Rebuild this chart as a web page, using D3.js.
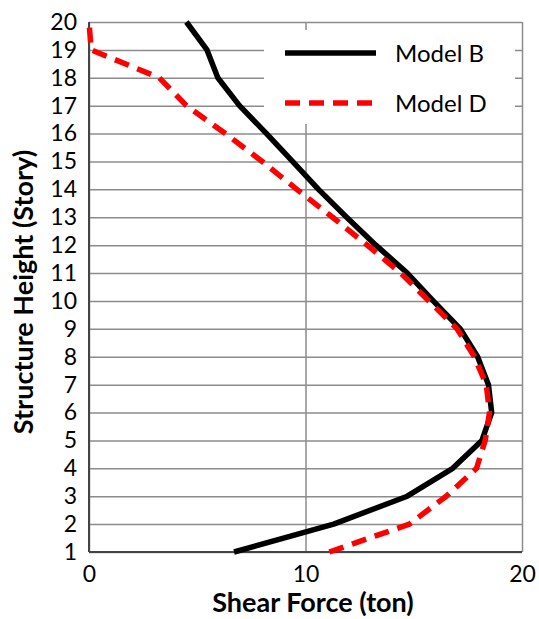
<!DOCTYPE html>
<html>
<head>
<meta charset="utf-8">
<script src="https://cdn.jsdelivr.net/npm/d3@7"></script>
<style>
  html, body { margin: 0; padding: 0; background: #fff; }
  svg { display: block; }
  text { font-family: Lato, "Open Sans", sans-serif; fill: #000; }
</style>
</head>
<body>
<script>
// ---- data ----
const stories = [1,2,3,4,5,6,7,8,9,10,11,12,13,14,15,16,17,18,19,20];
const modelB = [6.7, 11.3, 14.7, 16.8, 18.15, 18.6, 18.45, 17.95, 17.15, 15.9, 14.7, 13.25, 11.9, 10.6, 9.4, 8.2, 6.95, 5.95, 5.45, 4.5];
const modelD = [11.1, 14.8, 16.5, 17.9, 18.3, 18.5, 18.35, 17.8, 17.0, 15.7, 14.4, 12.85, 11.25, 9.6, 8.0, 6.3, 4.5, 3.25, 0.1, 0.0];
const xTicks = [0, 10, 20];
const yTicks = stories;
const seriesNames = ["Model B", "Model D"];

// ---- layout ----
const W = 539, H = 619;
const margin = {left: 89, right: 17, top: 22, bottom: 67};

const svg = d3.select("body").append("svg").attr("width", W).attr("height", H);

const x = d3.scaleLinear().domain([0, 20]).range([margin.left, W - margin.right]);
const y = d3.scaleLinear().domain([1, 20]).range([H - margin.bottom, margin.top]);

// horizontal gridlines
svg.append("g")
  .attr("transform", `translate(${margin.left},0)`)
  .call(d3.axisLeft(y).tickValues(yTicks).tickSize(-(x(20) - x(0))).tickFormat(""))
  .call(g => g.select(".domain").remove())
  .call(g => g.selectAll("line").attr("stroke", "#8c8c8c").attr("stroke-width", 1.5));

// vertical gridlines
svg.append("g")
  .attr("transform", `translate(0,${y(1)})`)
  .call(d3.axisBottom(x).tickValues(xTicks).tickSize(-(y(1) - y(20))).tickFormat(""))
  .call(g => g.select(".domain").remove())
  .call(g => g.selectAll("line").attr("stroke", "#8c8c8c").attr("stroke-width", 1.5));

// axis lines
svg.append("line").attr("x1", x(0)).attr("x2", x(0)).attr("y1", y(20)).attr("y2", y(1))
  .attr("stroke", "#444").attr("stroke-width", 2);
svg.append("line").attr("x1", x(0)).attr("x2", x(20)).attr("y1", y(1)).attr("y2", y(1))
  .attr("stroke", "#444").attr("stroke-width", 2);

// tick labels
svg.append("g")
  .attr("transform", `translate(${margin.left},0)`)
  .call(d3.axisLeft(y).tickValues(yTicks).tickSize(0).tickPadding(12).tickFormat(d3.format("d")))
  .call(g => g.select(".domain").remove())
  .call(g => g.selectAll("text").attr("font-size", 23).style("font-family", "Lato, sans-serif").attr("fill", "#000"));

svg.append("g")
  .attr("transform", `translate(0,${y(1)})`)
  .call(d3.axisBottom(x).tickValues(xTicks).tickSize(0).tickPadding(14).tickFormat(d3.format("d")))
  .call(g => g.select(".domain").remove())
  .call(g => g.selectAll("text").attr("font-size", 23).style("font-family", "Lato, sans-serif").attr("fill", "#000"));

// lines
const line = d3.line().x(d => x(d[0])).y(d => y(d[1]));
const dataB = stories.map((s, i) => [modelB[i], s]);
const dataD = stories.map((s, i) => [modelD[i], s]);

svg.append("path").datum(dataB).attr("d", line)
  .attr("fill", "none").attr("stroke", "#000").attr("stroke-width", 5.5)
  .attr("stroke-linejoin", "round");
svg.append("path").datum(dataD).attr("d", line)
  .attr("fill", "none").attr("stroke", "#ff0000").attr("stroke-width", 5.5)
  .attr("stroke-dasharray", "15,9").attr("stroke-linejoin", "round");

// legend
const leg = svg.append("g");
leg.append("rect").attr("x", 264).attr("y", 30).attr("width", 251).attr("height", 94).attr("fill", "#fff");
const legY = [53, 103];
seriesNames.forEach((name, i) => {
  leg.append("line").attr("x1", 285).attr("x2", 376).attr("y1", legY[i]).attr("y2", legY[i])
    .attr("stroke", i === 0 ? "#000" : "#ff0000").attr("stroke-width", 5.5)
    .attr("stroke-dasharray", i === 0 ? null : "15,9");
  leg.append("text").attr("x", 395).attr("y", legY[i] + 9).attr("font-size", 24).text(name);
});

// axis titles
svg.append("text").attr("x", 313).attr("y", 612).attr("text-anchor", "middle")
  .attr("font-size", 27).attr("font-weight", "bold").text("Shear Force (ton)");
svg.append("text").attr("transform", "translate(33,292) rotate(-90)").attr("text-anchor", "middle")
  .attr("font-size", 27).attr("font-weight", "bold").text("Structure Height (Story)");
</script>
</body>
</html>
